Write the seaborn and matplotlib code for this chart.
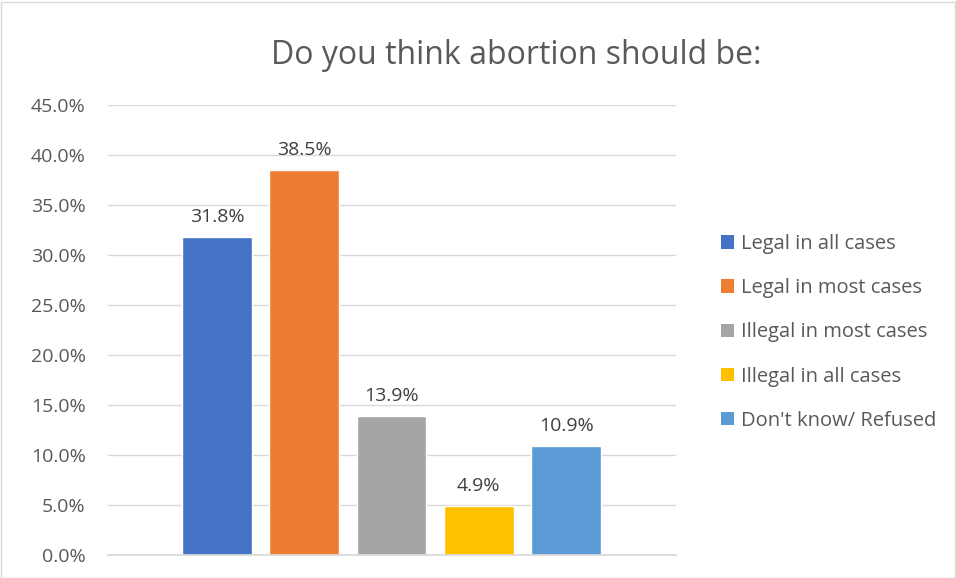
import matplotlib
matplotlib.use("Agg")
import matplotlib.pyplot as plt
import seaborn as sns
import pandas as pd
from matplotlib.patches import Patch, Rectangle

categories = ["Legal in all cases", "Legal in most cases", "Illegal in most cases",
              "Illegal in all cases", "Don't know/ Refused"]
values = [31.8, 38.5, 13.9, 4.9, 10.9]
colors = ["#4472C4", "#ED7D31", "#A5A5A5", "#FFC000", "#5B9BD5"]
yticks = [0, 5, 10, 15, 20, 25, 30, 35, 40, 45]
title = "Do you think abortion should be:"

sns.set_theme(style="white")
plt.rcParams['font.family'] = ['Open Sans', 'DejaVu Sans']

df = pd.DataFrame({"cat": categories, "val": values})
fig = plt.figure(figsize=(9.56, 5.78), dpi=100)
ax = fig.add_axes([108/956, 1-555/578, (676-108)/956, (555-105)/578])

sns.barplot(data=df, x="cat", y="val", hue="cat", palette=colors, dodge=False,
            width=0.8, legend=False, ax=ax, saturation=1)

ax.set_ylim(0, 45)
ax.set_xlim(-1.25, 5.26)
ax.set_yticks(yticks)
ax.set_yticklabels([f"{t:.1f}%" for t in yticks], color="#595959", fontsize=14)
ax.set_xticks([])
ax.set_xlabel("")
ax.set_ylabel("")
ax.yaxis.grid(True, color="#D9D9D9", linewidth=1)
ax.set_axisbelow(True)
for s in ["left", "right", "top"]:
    ax.spines[s].set_visible(False)
ax.spines["bottom"].set_color("#D9D9D9")
ax.tick_params(axis="y", length=0, pad=16)

for i, v in enumerate(values):
    ax.text(i, v + 1.1, f"{v:.1f}%", ha="center", va="bottom", fontsize=14, color="#404040")

fig.text(516/956, 1-55/578, title, ha="center", va="center", fontsize=23, color="#595959")

handles = [Patch(facecolor=c, edgecolor="none") for c in colors]
leg = fig.legend(handles, categories, loc="upper left", bbox_to_anchor=(703/956, 1-216/578),
                 frameon=False, fontsize=14.5, labelspacing=1.2, handlelength=0.65,
                 handleheight=0.65, handletextpad=0.35, labelcolor="#595959")

fig.patches.append(Rectangle((0.5/956, 0.5/578), 1-2/956, 1-2/578, transform=fig.transFigure,
                             fill=False, edgecolor="#D9D9D9", linewidth=1))
fig.savefig("out.png", dpi=100)
